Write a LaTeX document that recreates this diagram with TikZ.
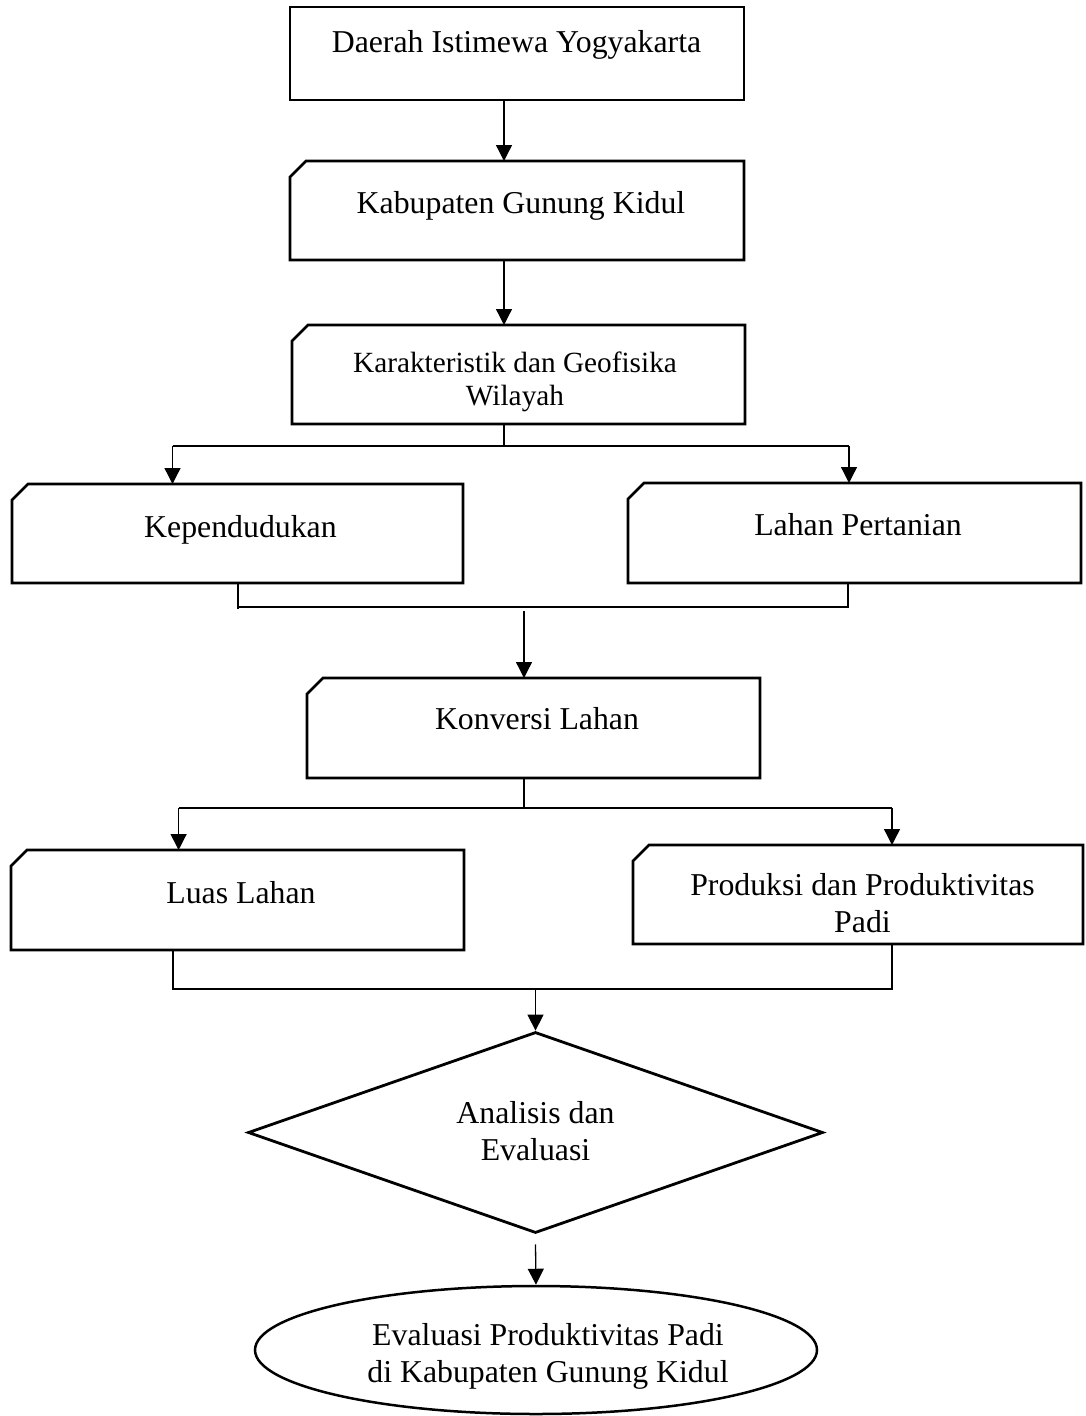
\documentclass[tikz,border=0pt]{standalone}
\usepackage{fontspec}
\setmainfont{Liberation Serif}
\usetikzlibrary{arrows.meta,calc,shapes.geometric}
\newcommand\cardoutline[1]{%
  \draw[boxline] ($(#1.north west)+(0,16)$) -- ($(#1.north west)+(16,0)$) -- (#1.north east) -- (#1.south east) -- (#1.south west) -- cycle;}
\begin{document}
\begin{tikzpicture}[x=1pt,y=-1pt,
  area/.style 2 args={draw=none,inner sep=0pt,outer sep=0pt,minimum width=#1,minimum height=#2},
  boxline/.style={line width=2.7pt,line join=miter},
  conn/.style={line width=1.3pt},
  arr/.style={conn,-{Triangle[length=16pt,width=16pt]}},
  txt/.style={inner sep=0pt,outer sep=0pt,anchor=north,align=center,font=\fontsize{31.8}{37}\selectfont},
  smalltxt/.style={txt,font=\fontsize{29.3}{33}\selectfont}
]
\useasboundingbox (0,0) rectangle (1085,1416);

% boxes
\node[area={454pt}{93pt}] (b1) at (517,53.5) {};
\draw[boxline] (b1.north west) rectangle (b1.south east);
\node[area={454pt}{99pt}] (b2) at (517,210.5) {};
\cardoutline{b2}
\node[area={453pt}{99pt}] (b3) at (518.5,374.5) {};
\cardoutline{b3}
\node[area={451pt}{99pt}] (b4) at (237.5,533.5) {};
\cardoutline{b4}
\node[area={453pt}{100pt}] (b5) at (854.5,533) {};
\cardoutline{b5}
\node[area={453pt}{100pt}] (b6) at (533.5,728) {};
\cardoutline{b6}
\node[area={453pt}{100pt}] (b7) at (237.5,900) {};
\cardoutline{b7}
\node[area={450pt}{99pt}] (b8) at (858,894.5) {};
\cardoutline{b8}
\node[draw,diamond,line width=2.8pt,inner sep=0pt,minimum width=575pt,minimum height=201pt] (d) at (535.5,1132.5) {};
\node[draw,ellipse,line width=2.5pt,inner sep=0pt,minimum width=562pt,minimum height=128pt] (e) at (536,1350) {};

% texts
\node[txt] (t1) at (516.5,52-25.9) {\strut Daerah Istimewa Yogyakarta};
\node[txt] (t2) at (521,213-25.9) {\strut Kabupaten Gunung Kidul};
\node[smalltxt] (t3) at (515,372-23.1) {\strut Karakteristik dan Geofisika\\\strut Wilayah};
\node[txt] (t4) at (240.5,537-25.9) {\strut Kependudukan};
\node[txt] (t5) at (858,535-25.9) {\strut Lahan Pertanian};
\node[txt] (t6) at (537,729-25.9) {\strut Konversi Lahan};
\node[txt] (t7) at (241,903-25.9) {\strut Luas Lahan};
\node[txt] (t8) at (862.5,895-25.9) {\strut Produksi dan Produktivitas\\\strut Padi};
\node[txt] (t9) at (535.5,1123-25.9) {\strut Analisis dan\\\strut Evaluasi};
\node[txt] (t10) at (548,1345-25.9) {\strut Evaluasi Produktivitas Padi\\\strut di Kabupaten Gunung Kidul};

% connectors
\coordinate (c1) at (504,0);
\draw[arr] (b1.south -| c1) -- (b2.north -| c1);
\draw[arr] (b2.south -| c1) -- (b3.north -| c1);

\coordinate (s1) at (504,446);
\coordinate (a4) at (172.5,446);
\coordinate (a5) at (849,446);
\draw[conn] (b3.south -| s1) -- (s1);
\draw[conn] (a4) -- (a5);
\draw[arr] (a4) -- (b4.north -| a4);
\draw[arr] (a5) -- (b5.north -| a5);

\coordinate (m4) at (238,607);
\coordinate (m5) at (848,607);
\coordinate (m6) at (524,611);
\draw[conn] (b4.south -| m4) -- ($(m4)+(0,2)$);
\draw[conn] (m4) -- (m5) -- (b5.south -| m5);
\draw[arr] (m6) -- (b6.north -| m6);

\coordinate (s2) at (524,808);
\coordinate (a7) at (178.6,808);
\coordinate (a8) at (892,808);
\draw[conn] (b6.south -| s2) -- (s2);
\draw[conn] (a7) -- (a8);
\draw[arr] (a7) -- (b7.north -| a7);
\draw[arr] (a8) -- (b8.north -| a8);

\coordinate (m7) at (173,989);
\coordinate (m8) at (892,989);
\coordinate (m9) at (535.5,989);
\draw[conn] (b7.south -| m7) -- (m7) -- (m8) -- (b8.south -| m8);
\draw[arr] (m9) -- (d.north);

\draw[arr] ($(d.south)+(0,10)$) -- (e.north);
\end{tikzpicture}
\end{document}
